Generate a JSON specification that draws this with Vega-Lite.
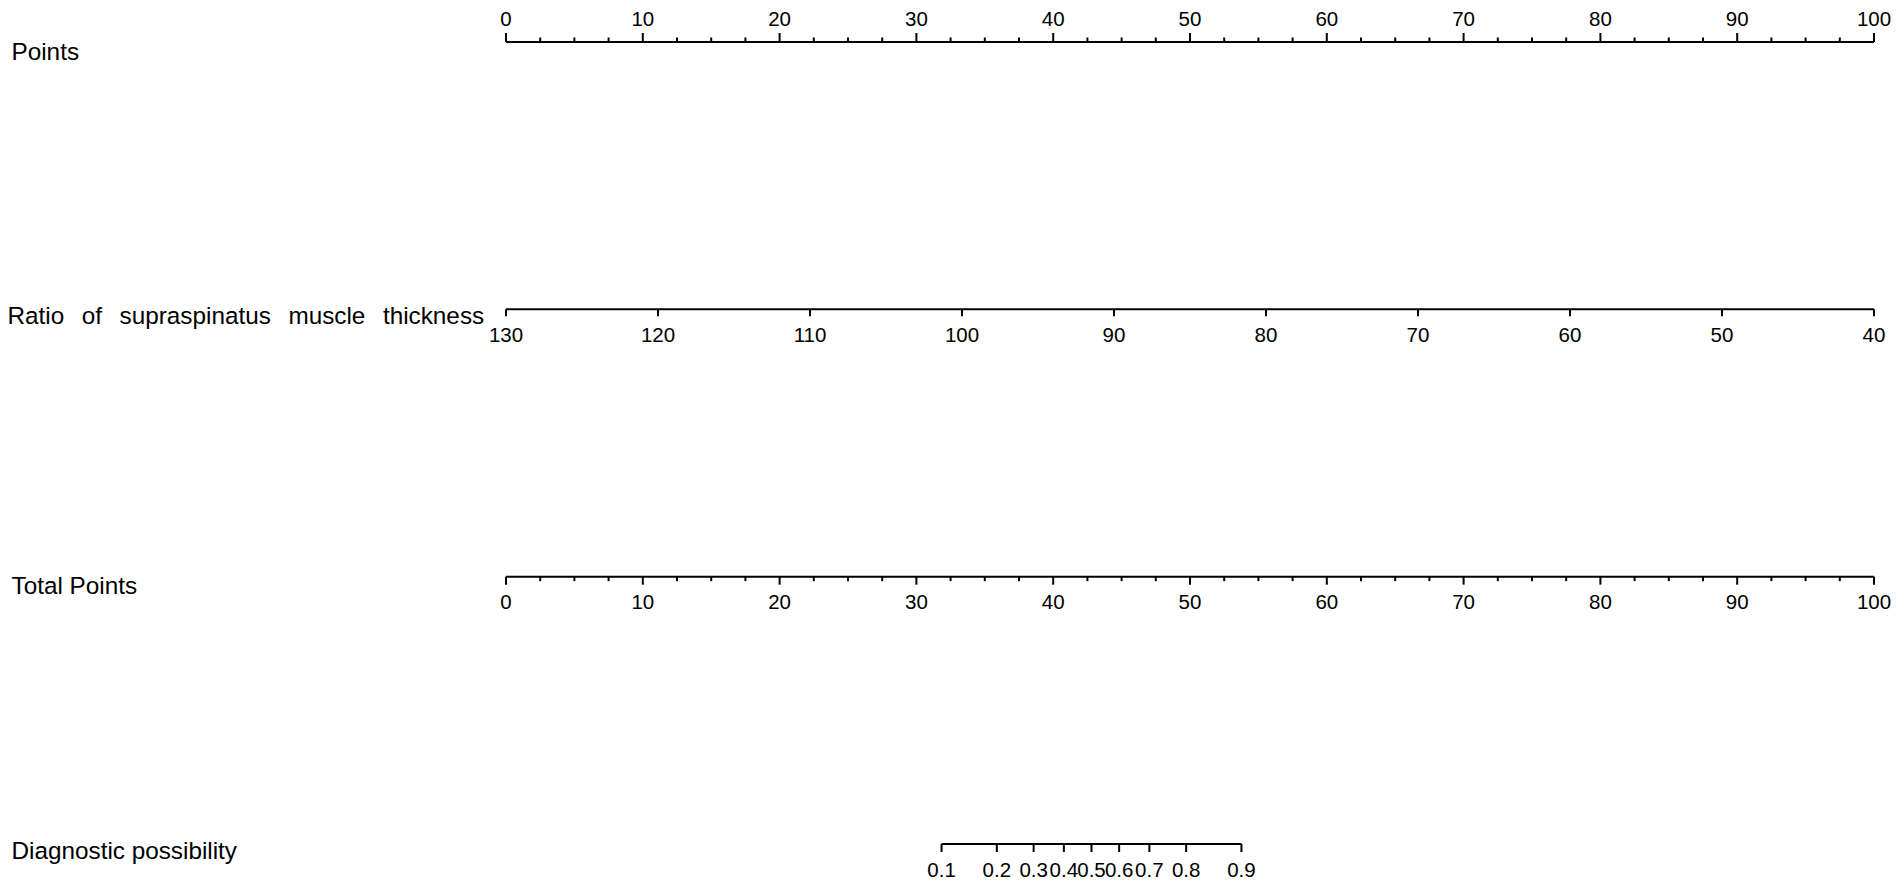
{
  "$schema": "https://vega.github.io/schema/vega-lite/v6.json",
  "autosize": {"type": "none"},
  "width": 1368,
  "height": 802,
  "padding": {"left": 506, "top": 42, "right": 28, "bottom": 46},
  "background": "white",
  "config": {"view": {"stroke": null}, "font": "Liberation Sans"},
  "datasets": {
    "lines100": [
      {"row": "Points", "lo": 0, "hi": 100},
      {"row": "Total Points", "lo": 0, "hi": 100},
      {"row": "Diagnostic possibility", "lo": 31.84, "hi": 53.76}
    ],
    "lineRatio": [
      {"row": "Ratio of supraspinatus muscle thickness", "lo": 130, "hi": 40}
    ],
    "scale100": [
      {"v": 0, "major": true}, {"v": 10, "major": true}, {"v": 20, "major": true}, {"v": 30, "major": true},
      {"v": 40, "major": true}, {"v": 50, "major": true}, {"v": 60, "major": true}, {"v": 70, "major": true},
      {"v": 80, "major": true}, {"v": 90, "major": true}, {"v": 100, "major": true},
      {"v": 2.5, "major": false}, {"v": 5, "major": false}, {"v": 7.5, "major": false},
      {"v": 12.5, "major": false}, {"v": 15, "major": false}, {"v": 17.5, "major": false},
      {"v": 22.5, "major": false}, {"v": 25, "major": false}, {"v": 27.5, "major": false},
      {"v": 32.5, "major": false}, {"v": 35, "major": false}, {"v": 37.5, "major": false},
      {"v": 42.5, "major": false}, {"v": 45, "major": false}, {"v": 47.5, "major": false},
      {"v": 52.5, "major": false}, {"v": 55, "major": false}, {"v": 57.5, "major": false},
      {"v": 62.5, "major": false}, {"v": 65, "major": false}, {"v": 67.5, "major": false},
      {"v": 72.5, "major": false}, {"v": 75, "major": false}, {"v": 77.5, "major": false},
      {"v": 82.5, "major": false}, {"v": 85, "major": false}, {"v": 87.5, "major": false},
      {"v": 92.5, "major": false}, {"v": 95, "major": false}, {"v": 97.5, "major": false}
    ],
    "ratio": [
      {"ratio": 130}, {"ratio": 120}, {"ratio": 110}, {"ratio": 100}, {"ratio": 90},
      {"ratio": 80}, {"ratio": 70}, {"ratio": 60}, {"ratio": 50}, {"ratio": 40}
    ],
    "diag": [
      {"prob": "0.1", "pts": 31.84}, {"prob": "0.2", "pts": 35.88}, {"prob": "0.3", "pts": 38.57},
      {"prob": "0.4", "pts": 40.78}, {"prob": "0.5", "pts": 42.8}, {"prob": "0.6", "pts": 44.82},
      {"prob": "0.7", "pts": 47.03}, {"prob": "0.8", "pts": 49.72}, {"prob": "0.9", "pts": 53.76}
    ]
  },
  "resolve": {"scale": {"x": "independent"}},
  "layer": [
    {
      "data": {"name": "lines100"},
      "mark": {"type": "rule", "color": "black", "strokeWidth": 2},
      "encoding": {
        "x": {"field": "lo", "type": "quantitative", "scale": {"domain": [0, 100], "nice": false, "zero": false}, "axis": null},
        "x2": {"field": "hi"},
        "y": {"field": "row", "type": "nominal",
          "scale": {"type": "point", "domain": ["Points", "Ratio of supraspinatus muscle thickness", "Total Points", "Diagnostic possibility"], "padding": 0},
          "axis": {"title": null, "domain": false, "ticks": false, "tickSize": 0, "labelAlign": "left", "labelBaseline": "middle",
            "labelPadding": {"condition": {"test": "datum.value == 'Ratio of supraspinatus muscle thickness'", "value": 499}, "value": 495},
            "labelFontSize": 24.3, "labelFont": "Liberation Sans", "labelColor": "black",
            "labelOffset": {"condition": {"test": "datum.value == 'Points' || datum.value == 'Total Points'", "value": 10}, "value": 7},
            "labelLimit": 0, "labelOverlap": false, "labelBound": false,
            "labelExpr": "datum.value == 'Ratio of supraspinatus muscle thickness' ? 'Ratio\u00a0\u00a0\u2006of\u00a0\u00a0\u2006supraspinatus\u00a0\u00a0\u2006muscle\u00a0\u00a0\u2006thickness' : datum.value"}}
      }
    },
    {
      "data": {"name": "lineRatio"},
      "mark": {"type": "rule", "color": "black", "strokeWidth": 2},
      "encoding": {
        "x": {"field": "lo", "type": "quantitative", "scale": {"domain": [130, 40], "nice": false, "zero": false}, "axis": null},
        "x2": {"field": "hi"},
        "y": {"field": "row", "type": "nominal", "scale": {"type": "point", "domain": ["Points", "Ratio of supraspinatus muscle thickness", "Total Points", "Diagnostic possibility"], "padding": 0}}
      }
    },
    {
      "data": {"name": "scale100"},
      "transform": [{"filter": "datum.major"}],
      "mark": {"type": "tick", "color": "black", "opacity": 1, "size": 9, "thickness": 2, "yOffset": -4.5},
      "encoding": {
        "x": {"field": "v", "type": "quantitative", "scale": {"domain": [0, 100], "nice": false, "zero": false}, "axis": null},
        "y": {"datum": "Points", "type": "nominal", "scale": {"type": "point", "domain": ["Points", "Ratio of supraspinatus muscle thickness", "Total Points", "Diagnostic possibility"], "padding": 0}}
      }
    },
    {
      "data": {"name": "scale100"},
      "transform": [{"filter": "!datum.major"}],
      "mark": {"type": "tick", "color": "black", "opacity": 1, "size": 4.5, "thickness": 2, "yOffset": -2.25},
      "encoding": {
        "x": {"field": "v", "type": "quantitative", "scale": {"domain": [0, 100], "nice": false, "zero": false}, "axis": null},
        "y": {"datum": "Points", "type": "nominal", "scale": {"type": "point", "domain": ["Points", "Ratio of supraspinatus muscle thickness", "Total Points", "Diagnostic possibility"], "padding": 0}}
      }
    },
    {
      "data": {"name": "scale100"},
      "transform": [{"filter": "datum.major"}],
      "mark": {"type": "text", "color": "black", "font": "Liberation Sans", "fontSize": 20.5, "baseline": "alphabetic", "align": "center", "dy": -16.5},
      "encoding": {
        "x": {"field": "v", "type": "quantitative", "scale": {"domain": [0, 100], "nice": false, "zero": false}, "axis": null},
        "y": {"datum": "Points", "type": "nominal", "scale": {"type": "point", "domain": ["Points", "Ratio of supraspinatus muscle thickness", "Total Points", "Diagnostic possibility"], "padding": 0}},
        "text": {"field": "v", "type": "quantitative"}
      }
    },
    {
      "data": {"name": "scale100"},
      "transform": [{"filter": "datum.major"}],
      "mark": {"type": "tick", "color": "black", "opacity": 1, "size": 8, "thickness": 2, "yOffset": 4},
      "encoding": {
        "x": {"field": "v", "type": "quantitative", "scale": {"domain": [0, 100], "nice": false, "zero": false}, "axis": null},
        "y": {"datum": "Total Points", "type": "nominal", "scale": {"type": "point", "domain": ["Points", "Ratio of supraspinatus muscle thickness", "Total Points", "Diagnostic possibility"], "padding": 0}}
      }
    },
    {
      "data": {"name": "scale100"},
      "transform": [{"filter": "!datum.major"}],
      "mark": {"type": "tick", "color": "black", "opacity": 1, "size": 4.5, "thickness": 2, "yOffset": 2.25},
      "encoding": {
        "x": {"field": "v", "type": "quantitative", "scale": {"domain": [0, 100], "nice": false, "zero": false}, "axis": null},
        "y": {"datum": "Total Points", "type": "nominal", "scale": {"type": "point", "domain": ["Points", "Ratio of supraspinatus muscle thickness", "Total Points", "Diagnostic possibility"], "padding": 0}}
      }
    },
    {
      "data": {"name": "scale100"},
      "transform": [{"filter": "datum.major"}],
      "mark": {"type": "text", "color": "black", "font": "Liberation Sans", "fontSize": 20.5, "baseline": "alphabetic", "align": "center", "dy": 32.5},
      "encoding": {
        "x": {"field": "v", "type": "quantitative", "scale": {"domain": [0, 100], "nice": false, "zero": false}, "axis": null},
        "y": {"datum": "Total Points", "type": "nominal", "scale": {"type": "point", "domain": ["Points", "Ratio of supraspinatus muscle thickness", "Total Points", "Diagnostic possibility"], "padding": 0}},
        "text": {"field": "v", "type": "quantitative"}
      }
    },
    {
      "data": {"name": "ratio"},
      "mark": {"type": "tick", "color": "black", "opacity": 1, "size": 7, "thickness": 2, "yOffset": 3.5},
      "encoding": {
        "x": {"field": "ratio", "type": "quantitative", "scale": {"domain": [130, 40], "nice": false, "zero": false}, "axis": null},
        "y": {"datum": "Ratio of supraspinatus muscle thickness", "type": "nominal", "scale": {"type": "point", "domain": ["Points", "Ratio of supraspinatus muscle thickness", "Total Points", "Diagnostic possibility"], "padding": 0}}
      }
    },
    {
      "data": {"name": "ratio"},
      "mark": {"type": "text", "color": "black", "font": "Liberation Sans", "fontSize": 20.5, "baseline": "alphabetic", "align": "center", "dy": 32.5},
      "encoding": {
        "x": {"field": "ratio", "type": "quantitative", "scale": {"domain": [130, 40], "nice": false, "zero": false}, "axis": null},
        "y": {"datum": "Ratio of supraspinatus muscle thickness", "type": "nominal", "scale": {"type": "point", "domain": ["Points", "Ratio of supraspinatus muscle thickness", "Total Points", "Diagnostic possibility"], "padding": 0}},
        "text": {"field": "ratio", "type": "quantitative"}
      }
    },
    {
      "data": {"name": "diag"},
      "mark": {"type": "tick", "color": "black", "opacity": 1, "size": 8, "thickness": 2, "yOffset": 4},
      "encoding": {
        "x": {"field": "pts", "type": "quantitative", "scale": {"domain": [0, 100], "nice": false, "zero": false}, "axis": null},
        "y": {"datum": "Diagnostic possibility", "type": "nominal", "scale": {"type": "point", "domain": ["Points", "Ratio of supraspinatus muscle thickness", "Total Points", "Diagnostic possibility"], "padding": 0}}
      }
    },
    {
      "data": {"name": "diag"},
      "mark": {"type": "text", "color": "black", "font": "Liberation Sans", "fontSize": 20.5, "baseline": "alphabetic", "align": "center", "dy": 32.5},
      "encoding": {
        "x": {"field": "pts", "type": "quantitative", "scale": {"domain": [0, 100], "nice": false, "zero": false}, "axis": null},
        "y": {"datum": "Diagnostic possibility", "type": "nominal", "scale": {"type": "point", "domain": ["Points", "Ratio of supraspinatus muscle thickness", "Total Points", "Diagnostic possibility"], "padding": 0}},
        "text": {"field": "prob", "type": "nominal"}
      }
    }
  ]
}
